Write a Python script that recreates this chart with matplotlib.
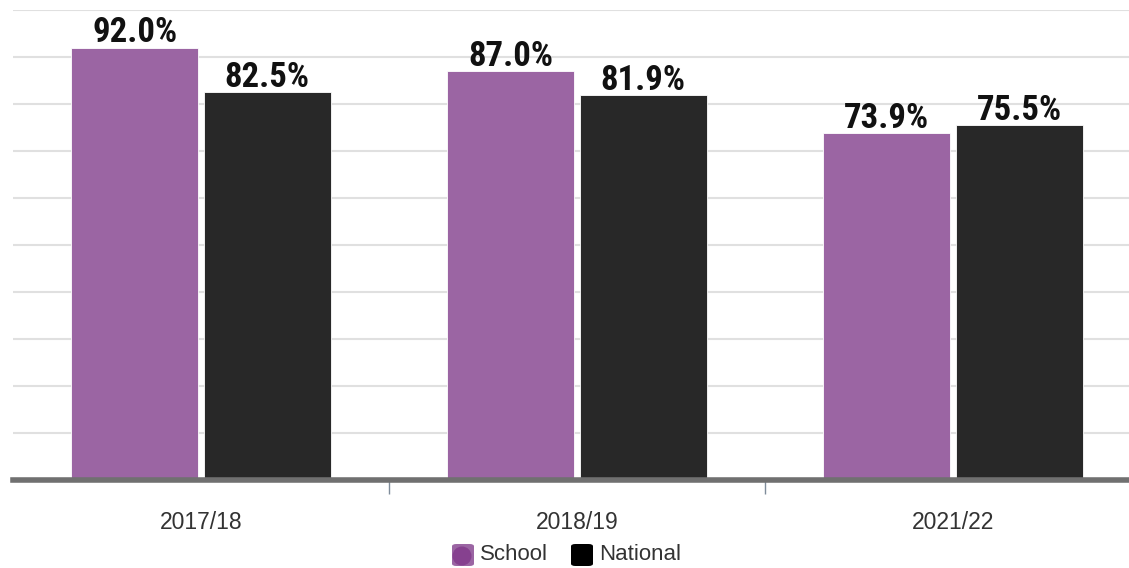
import numpy as np
import matplotlib.pyplot as plt
from matplotlib.patches import FancyBboxPatch, Ellipse

years = ['2017/18', '2018/19', '2021/22']
school = [92.0, 87.0, 73.9]
national = [82.5, 81.9, 75.5]

purple = '#9b65a3'
dark = '#282828'

W, H = 1129, 568
fig = plt.figure(figsize=(W / 100, H / 100), dpi=100)

# axes placed in pixel terms so that category widths match the reference
left, right, bottom, top = 13, 1129, 480, 10
ax = fig.add_axes([left / W, (H - bottom) / H, (right - left) / W, (bottom - top) / H])

x = np.arange(len(years))
w = 0.338
off = 0.176
ax.bar(x - off, school, w, color=purple, edgecolor='white', linewidth=0.6, zorder=3)
ax.bar(x + off, national, w, color=dark, edgecolor='white', linewidth=0.6, zorder=3)

lab = dict(ha='center', va='baseline', fontsize=25, fontweight='bold', color='#111111',
           family=['Roboto Condensed', 'Lato', 'DejaVu Sans'], zorder=4)
for i in range(len(years)):
    ax.text(x[i] - off, school[i] + 1.1, f'{school[i]:.1f}%', **lab)
    ax.text(x[i] + off, national[i] + 1.1, f'{national[i]:.1f}%', **lab)

ax.set_xlim(-0.5, -0.5 + (right - left) / 376)
ax.set_ylim(0, 100)
ax.set_yticks(np.arange(10, 101, 10))
ax.yaxis.grid(True, color='#e0e0e0', linewidth=1.5, zorder=0)
ax.tick_params(axis='y', left=False, labelleft=False)

for s in ['top', 'right', 'left']:
    ax.spines[s].set_visible(False)
ax.spines['bottom'].set_color('#707070')
ax.spines['bottom'].set_linewidth(4)
ax.spines['bottom'].set_zorder(5)

ax.set_xticks(x)
ax.set_xticklabels(years, fontsize=16.5, color='#333333', family='Liberation Sans')
ax.tick_params(axis='x', length=0, pad=22)
ax.set_xticks([0.5, 1.5], minor=True)
ax.tick_params(axis='x', which='minor', length=10, width=1, color='#7f8c9a')

# legend drawn in pixel coords
def px(xp, yp):
    return xp / W, (H - yp) / H

sq = 22
for xs, col, inner, name in [(452, purple, '#86418f', 'School'), (571, '#000000', None, 'National')]:
    x0, y0 = px(xs, 566)
    fig.patches.append(FancyBboxPatch((x0, y0), sq / W, sq / H, boxstyle='round,pad=0,rounding_size=0.004',
                                      transform=fig.transFigure, facecolor=col, edgecolor='none'))
    if inner:
        cx, cy = px(xs + 10, 556)
        fig.patches.append(Ellipse((cx, cy), 19 / W, 19 / H, transform=fig.transFigure,
                                   facecolor=inner, edgecolor='none'))
    tx, ty = px(xs + 28, 555)
    fig.text(tx, ty, name, ha='left', va='center', fontsize=16, color='#333333', family='Liberation Sans')

fig.savefig('out.png', dpi=100)
